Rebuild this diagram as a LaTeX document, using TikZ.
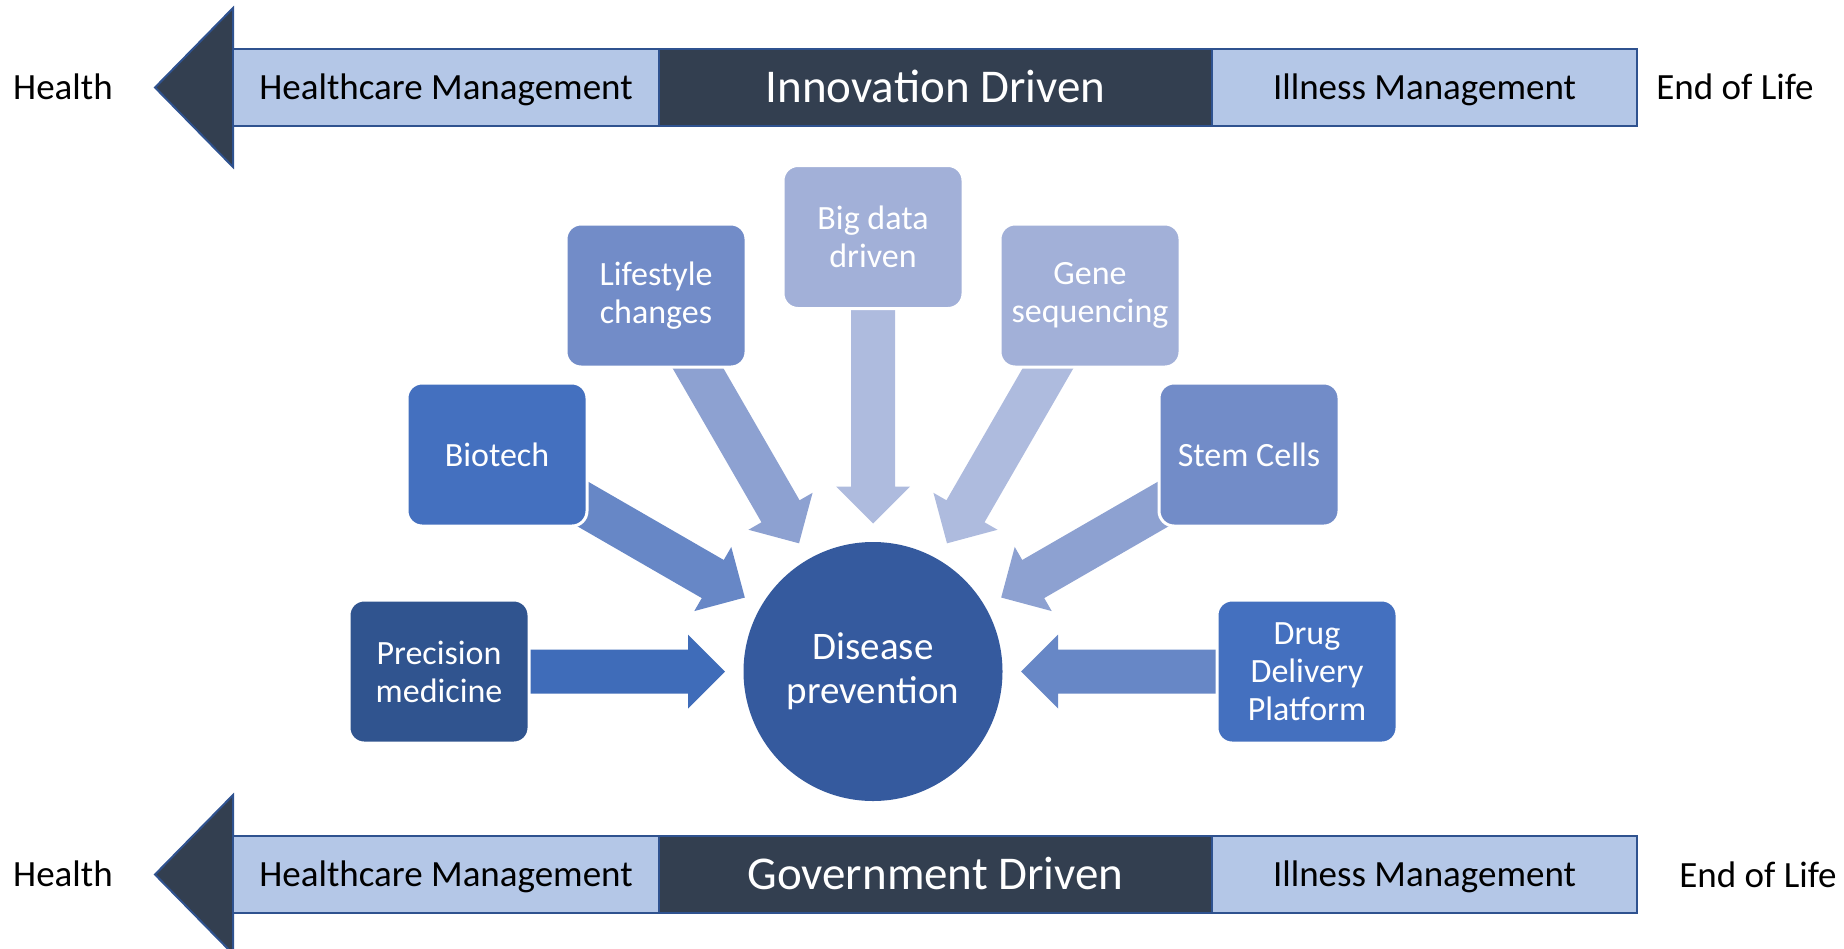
\documentclass[tikz,border=0pt]{standalone}
\usepackage{fontspec}
\setmainfont{Carlito}
\usetikzlibrary{calc}
\pgfdeclarelayer{bg}
\pgfsetlayers{bg,main}

\definecolor{banddark}{HTML}{333F50}
\definecolor{bandlightc}{HTML}{B4C7E7}
\definecolor{bandline}{HTML}{2F528F}
\definecolor{boxA}{HTML}{30548F}
\definecolor{boxB}{HTML}{4470BF}
\definecolor{boxC}{HTML}{728CC8}
\definecolor{boxD}{HTML}{A2B0D8}
\definecolor{hubc}{HTML}{355A9E}
\definecolor{arrA}{HTML}{3F6CB9}
\definecolor{arrB}{HTML}{6787C6}
\definecolor{arrC}{HTML}{8DA1D1}
\definecolor{arrD}{HTML}{AEBBDE}

\tikzset{
  bandseg/.style={draw=bandline, line width=2pt, minimum height=77pt, inner sep=0pt, outer sep=0pt, text depth=0pt},
  bandlight/.style={bandseg, fill=bandlightc, text=black, font=\fontsize{37}{44}\selectfont, text height=23.8pt},
  banddarkst/.style={bandseg, fill=banddark, text=white, font=\fontsize{47}{56}\selectfont, text height=30.3pt},
  bandhead/.style={fill=banddark, draw=bandline, line width=2pt, line join=miter},
  sidetext/.style={font=\fontsize{37}{44}\selectfont, text height=23.8pt, text depth=0pt, inner sep=0pt, text=black},
  itembox/.style={rounded corners=15pt, draw=white, line width=3pt, minimum width=180pt, minimum height=143pt,
    text=white, align=center, font=\fontsize{34}{38}\selectfont, inner sep=0pt},
  hub/.style={circle, fill=hubc, minimum size=259pt, inner sep=0pt, text=white, align=center,
    font=\fontsize{39}{44}\selectfont},
}

% block arrow from the centre of node #1 towards node #2, tip 148pt from #2's centre
\newcommand\blockarr[3]{%
  \coordinate (ba-s) at (#1.center);
  \coordinate (ba-t) at ($(#2.center)!148pt!(#1.center)$);
  \coordinate (ba-h) at ($(ba-t)!37pt!(ba-s)$);
  \fill[#3] ($(ba-s)!22pt!90:(ba-t)$) -- ($(ba-h)!22pt!90:(ba-t)$) -- ($(ba-h)!37pt!90:(ba-t)$)
    -- (ba-t) -- ($(ba-h)!37pt!-90:(ba-t)$) -- ($(ba-h)!22pt!-90:(ba-t)$) -- ($(ba-s)!22pt!-90:(ba-t)$) -- cycle;
}

\begin{document}
\begin{tikzpicture}[x=1pt, y=-1pt]
\useasboundingbox (0,0) rectangle (1844,948);
\clip (0,0) rectangle (1844,948);

% ---------- top band ----------
\node[sidetext] (th) at (63,87.5) {Health};
\node[sidetext] (te) at (1735,87.5) {End of Life};
\node[bandlight, minimum width=426pt] (thm) at (446,87.5) {Healthcare Management};
\node[banddarkst, minimum width=553pt] (tid) at (935.5,87.5) {Innovation Driven};
\node[bandlight, minimum width=425pt] (tim) at (1424.5,87.5) {Illness Management};
\begin{pgfonlayer}{bg}
  \draw[bandhead] ($(thm.west)+(-78,0)$) -- ($(thm.west)+(0,-79.5)$) -- ($(thm.west)+(0,79.5)$) -- cycle;
\end{pgfonlayer}

% ---------- bottom band ----------
\node[sidetext] (bh) at (63,874.5) {Health};
\node[sidetext] (be) at (1758,876) {End of Life};
\node[bandlight, minimum width=426pt] (bhm) at (446,874.5) {Healthcare Management};
\node[banddarkst, minimum width=553pt] (bgd) at (935.5,874.5) {Government Driven};
\node[bandlight, minimum width=425pt] (bim) at (1424.5,874.5) {Illness Management};
\begin{pgfonlayer}{bg}
  \draw[bandhead] ($(bhm.west)+(-78,0)$) -- ($(bhm.west)+(0,-79.5)$) -- ($(bhm.west)+(0,79.5)$) -- cycle;
\end{pgfonlayer}

% ---------- hub and boxes ----------
\node[hub] (hub) at (873,671.5) {Disease\\prevention};
\node[itembox, fill=boxA] (prec) at (439,671.5) {Precision\\medicine};
\node[itembox, fill=boxB] (bio) at (497,454.5) {Biotech};
\node[itembox, fill=boxC] (life) at (656,295.5) {Lifestyle\\changes};
\node[itembox, fill=boxD] (big) at (873,237) {Big data\\driven};
\node[itembox, fill=boxD] (gene) at (1090,295.5) {Gene\\sequencing};
\node[itembox, fill=boxC] (stem) at (1249,454.5) {Stem Cells};
\node[itembox, fill=boxB] (drug) at (1307,671.5) {Drug\\Delivery\\Platform};

% ---------- block arrows ----------
\begin{pgfonlayer}{bg}
  \blockarr{prec}{hub}{arrA}
  \blockarr{bio}{hub}{arrB}
  \blockarr{life}{hub}{arrC}
  \blockarr{big}{hub}{arrD}
  \blockarr{gene}{hub}{arrD}
  \blockarr{stem}{hub}{arrC}
  \blockarr{drug}{hub}{arrB}
\end{pgfonlayer}
\end{tikzpicture}
\end{document}
